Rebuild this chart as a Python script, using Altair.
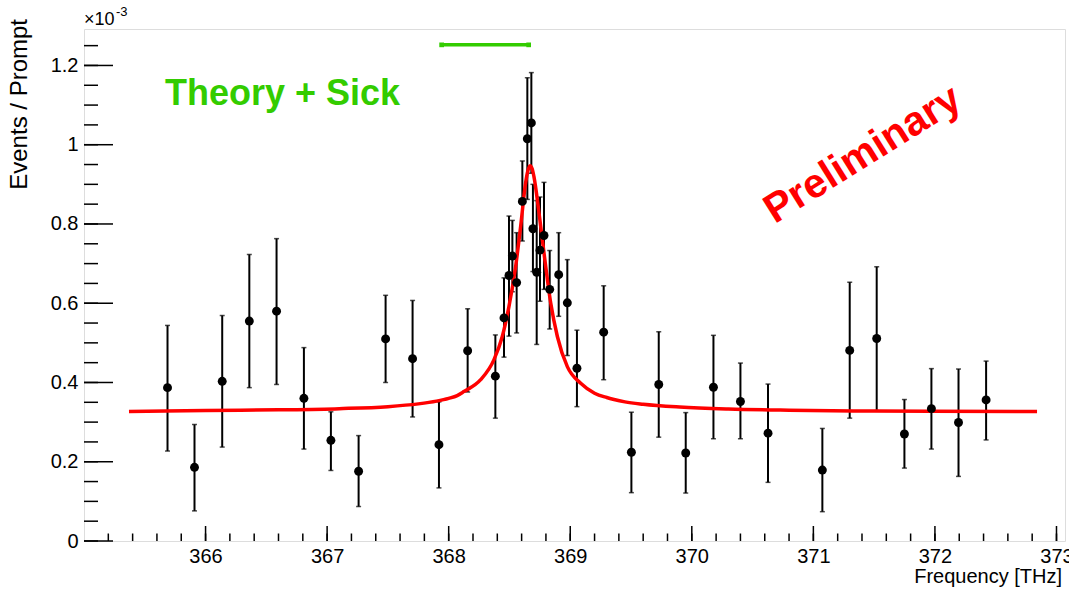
import altair as alt
import pandas as pd

# ---------------- data (values in units of 1e-3) ----------------
freq = [365.687, 365.909, 366.137, 366.360, 366.584, 366.809, 367.031, 367.259,
        367.481, 367.703, 367.920, 368.156, 368.384, 368.455, 368.496, 368.524,
        368.559, 368.606, 368.647, 368.680, 368.693, 368.724, 368.751, 368.784,
        368.831, 368.905, 368.976, 369.055, 369.275, 369.503, 369.728, 369.950,
        370.178, 370.400, 370.627, 371.074, 371.299, 371.521, 371.749, 371.971,
        372.194, 372.421]
value = [0.387, 0.186, 0.403, 0.555, 0.580, 0.360, 0.254, 0.176,
         0.510, 0.460, 0.243, 0.480, 0.416, 0.563, 0.670, 0.719,
         0.652, 0.857, 1.015, 1.055, 0.788, 0.678, 0.734, 0.771,
         0.635, 0.672, 0.601, 0.436, 0.527, 0.224, 0.395, 0.222,
         0.388, 0.352, 0.272, 0.179, 0.481, 0.511, 0.270, 0.334,
         0.299, 0.356]
err_hi = [0.544, 0.294, 0.569, 0.723, 0.763, 0.488, 0.326, 0.266,
          0.620, 0.607, 0.351, 0.586, 0.520, 0.664, 0.820, 0.809,
          0.778, 0.959, 1.169, 1.182, 0.900, 0.859, 0.868, 0.905,
          0.733, 0.778, 0.710, 0.532, 0.644, 0.325, 0.528, 0.324,
          0.519, 0.449, 0.396, 0.284, 0.653, 0.692, 0.357, 0.435,
          0.434, 0.454]
err_lo = [0.227, 0.076, 0.237, 0.387, 0.395, 0.232, 0.178, 0.087,
          0.400, 0.313, 0.134, 0.376, 0.310, 0.464, 0.517, 0.629,
          0.525, 0.757, 0.862, 0.928, 0.680, 0.496, 0.605, 0.635,
          0.535, 0.567, 0.468, 0.339, 0.407, 0.122, 0.262, 0.121,
          0.258, 0.258, 0.148, 0.074, 0.310, 0.329, 0.184, 0.232,
          0.163, 0.255]

fit_x = [365.37, 366.0, 366.6, 367.1, 367.5, 367.75, 367.9, 368.0, 368.07,
         368.125, 368.263, 368.372, 368.441, 368.496, 368.551, 368.592, 368.633,
         368.652, 368.669, 368.686, 368.701, 368.743, 368.784, 368.839, 368.894,
         368.976, 369.086, 369.2, 369.3, 369.36, 369.45, 369.6, 369.9, 370.3,
         370.8, 371.5, 372.84]
fit_y = [0.327, 0.329, 0.331, 0.334, 0.339, 0.346, 0.353, 0.360, 0.367,
         0.377, 0.407, 0.457, 0.516, 0.592, 0.693, 0.794, 0.904,
         0.935, 0.947, 0.940, 0.920, 0.828, 0.727, 0.601, 0.516,
         0.440, 0.398, 0.373, 0.362, 0.357, 0.351, 0.345, 0.338, 0.333,
         0.330, 0.328, 0.327]

theory_x = [367.942, 368.658]
theory_y = 1.252

x_major = [366, 367, 368, 369, 370, 371, 372, 373]
x_minor = [round(365.2 + 0.2 * i, 1) for i in range(40)]
y_major = [0, 0.2, 0.4, 0.6, 0.8, 1.0, 1.2]
y_minor = [round(0.05 * i, 2) for i in range(26)]

X_DOMAIN = [365.0, 373.07]
Y_DOMAIN = [0.0, 1.292]

W, H = 981, 512
FONT = "Liberation Sans"
GREEN = "#33cc00"

# ---------------- tables ----------------
pts = pd.DataFrame({"freq": freq, "val": value, "hi": err_hi, "lo": err_lo})
fit = pd.DataFrame({"cx": fit_x, "cy": fit_y})
theory = pd.DataFrame({"tx": [theory_x[0]], "tx2": [theory_x[1]], "ty": [theory_y]})
theory_ends = pd.DataFrame({"tx": theory_x, "ty": [theory_y, theory_y]})
xmaj = pd.DataFrame({"t": x_major})
xmin = pd.DataFrame({"t": x_minor})
ymaj = pd.DataFrame({"t": y_major})
ymin = pd.DataFrame({"t": [v for v in y_minor if v <= Y_DOMAIN[1]]})

xscale = alt.Scale(domain=X_DOMAIN, nice=False, zero=False)
yscale = alt.Scale(domain=Y_DOMAIN, nice=False, zero=False)

xaxis = alt.Axis(values=x_major, format="d", title=None, ticks=False, tickSize=0,
                 domain=False, grid=False, labelFont=FONT, labelFontSize=20,
                 labelColor="black", labelPadding=5, labelFlush=False,
                 labelOverlap=False)
yaxis = alt.Axis(values=y_major, format="~g", title=None, ticks=False, tickSize=0,
                 domain=False, grid=False, labelFont=FONT, labelFontSize=20,
                 labelColor="black", labelPadding=6, labelFlush=False,
                 labelOverlap=False)


def X(field):
    return alt.X(field, type="quantitative", scale=xscale, axis=xaxis)


def Y(field):
    return alt.Y(field, type="quantitative", scale=yscale, axis=yaxis)


bars = alt.Chart(pts).mark_rule(color="black", strokeWidth=2).encode(
    x=X("freq"), y=Y("lo"), y2="hi")
cap_hi = alt.Chart(pts).mark_tick(color="black", orient="horizontal", size=5,
                                  thickness=1.5).encode(x=X("freq"), y=Y("hi"))
cap_lo = alt.Chart(pts).mark_tick(color="black", orient="horizontal", size=5,
                                  thickness=1.5).encode(x=X("freq"), y=Y("lo"))
dots = alt.Chart(pts).mark_circle(color="black", opacity=1, size=80).encode(
    x=X("freq"), y=Y("val"))
curve = alt.Chart(fit).mark_line(color="#ff0000", strokeWidth=3.5,
                                 interpolate="monotone").encode(
    x=X("cx"), y=Y("cy"))
theory_line = alt.Chart(theory).mark_rule(color=GREEN, strokeWidth=3.5).encode(
    x=X("tx"), x2="tx2", y=Y("ty"))
theory_cap = alt.Chart(theory_ends).mark_point(shape="square", filled=True,
                                               color=GREEN, opacity=1, size=22).encode(
    x=X("tx"), y=Y("ty"))

# inward ticks
xt_major = alt.Chart(xmaj).mark_rule(color="black", strokeWidth=1.5).encode(
    x=X("t"), y=alt.value(H), y2=alt.value(H - 15))
xt_minor = alt.Chart(xmin).mark_rule(color="black", strokeWidth=1.5).encode(
    x=X("t"), y=alt.value(H), y2=alt.value(H - 7.5))
yt_major = alt.Chart(ymaj).mark_rule(color="black", strokeWidth=1.5).encode(
    y=Y("t"), x=alt.value(0), x2=alt.value(29))
yt_minor = alt.Chart(ymin).mark_rule(color="black", strokeWidth=1.5).encode(
    y=Y("t"), x=alt.value(0), x2=alt.value(14))

# texts
label_df = pd.DataFrame({"a": [0]})
theory_txt = alt.Chart(label_df).mark_text(
    text="Theory + Sick", font=FONT, fontSize=36, fontWeight="bold", color=GREEN,
    align="left", baseline="alphabetic").encode(x=alt.value(81), y=alt.value(76))
prelim_txt = alt.Chart(label_df).mark_text(
    text="Preliminary", font=FONT, fontSize=41, fontWeight="bold", color="#ff0000",
    align="center", baseline="middle", angle=328).encode(x=alt.value(779), y=alt.value(126))
exp_txt = alt.Chart(label_df).mark_text(
    text="×10", font=FONT, fontSize=18, color="black", align="left",
    baseline="alphabetic").encode(x=alt.value(0), y=alt.value(-4))
exp_sup = alt.Chart(label_df).mark_text(
    text="-3", font=FONT, fontSize=13, color="black", align="left",
    baseline="alphabetic").encode(x=alt.value(32), y=alt.value(-13))
xtitle = alt.Chart(label_df).mark_text(
    text="Frequency [THz]", font=FONT, fontSize=20, color="black", align="right",
    baseline="alphabetic").encode(x=alt.value(978), y=alt.value(554))
ytitle = alt.Chart(label_df).mark_text(
    text="Events / Prompt", font=FONT, fontSize=24, color="black", align="right",
    baseline="alphabetic", angle=270).encode(x=alt.value(-57), y=alt.value(-10))

chart = alt.layer(
    xt_minor, xt_major, yt_minor, yt_major,
    bars, cap_hi, cap_lo, curve, dots, theory_line, theory_cap,
    theory_txt, prelim_txt, exp_txt, exp_sup, xtitle, ytitle,
).properties(
    width=W, height=H,
    padding={"left": 84, "top": 29, "right": 4, "bottom": 49},
    autosize=alt.AutoSizeParams(type="none"),
).configure_view(stroke="black", strokeWidth=1.5).configure(background="white")

chart.save("out.html", embed_options={"renderer": "svg", "actions": False})
